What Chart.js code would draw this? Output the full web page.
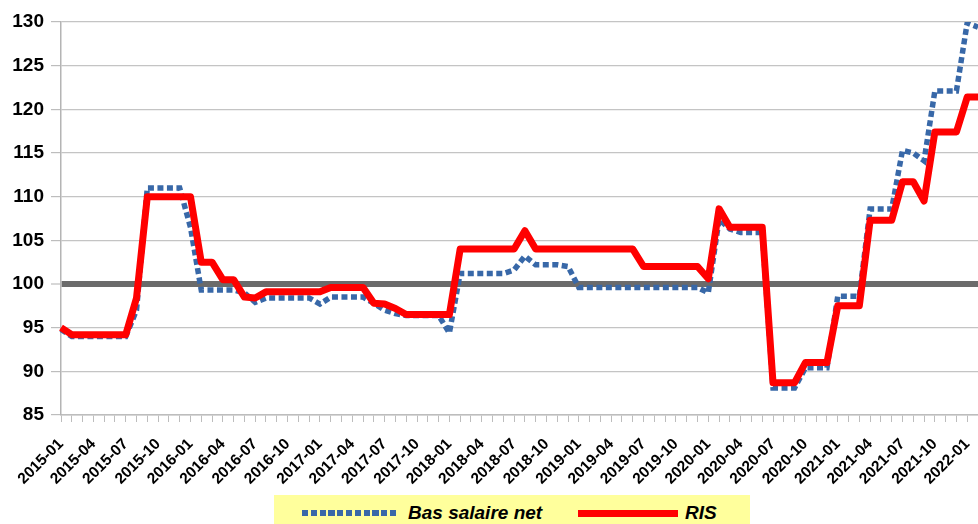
<!DOCTYPE html>
<html>

<head>
    <title>Bas salaire net et RIS</title>
    <style>
        body {
            margin: 0;
            background: #fff;
            overflow: hidden;
        }

        #canvas-container {
            position: relative;
            width: 978px;
            height: 524px;
        }

        #legend {
            position: absolute;
            left: 274px;
            top: 495px;
            width: 476px;
            height: 29px;
            background: #ffff9c;
            font-family: 'Liberation Sans', Arial, sans-serif;
            font-size: 19px;
            font-weight: bold;
            font-style: italic;
        }

        #legend .sample, #legend .txt {
            position: absolute;
        }

        #legend .txt {
            top: 7px;
            line-height: 22px;
        }
    </style>
    <script src="https://cdn.jsdelivr.net/npm/chart.js"></script>
</head>

<body>
    <div id="canvas-container">
        <canvas id="myChart"></canvas>
        <div id="legend">
            <div class="sample" style="left:28px; top:15px; width:97px; height:5.5px; background: repeating-linear-gradient(to right, #3868a8 0 6.2px, transparent 6.2px 8.8px);"></div>
            <div class="txt" style="left:134px;">Bas salaire net</div>
            <div class="sample" style="left:304px; top:14.5px; width:100px; height:7px; background:#ff0000;"></div>
            <div class="txt" style="left:411px;">RIS</div>
        </div>
    </div>

    <script>
        // Months (one point per month)
        const months = [
            '2015-01', '2015-02', '2015-03', '2015-04', '2015-05', '2015-06', '2015-07', '2015-08', '2015-09', '2015-10', '2015-11', '2015-12',
            '2016-01', '2016-02', '2016-03', '2016-04', '2016-05', '2016-06', '2016-07', '2016-08', '2016-09', '2016-10', '2016-11', '2016-12',
            '2017-01', '2017-02', '2017-03', '2017-04', '2017-05', '2017-06', '2017-07', '2017-08', '2017-09', '2017-10', '2017-11', '2017-12',
            '2018-01', '2018-02', '2018-03', '2018-04', '2018-05', '2018-06', '2018-07', '2018-08', '2018-09', '2018-10', '2018-11', '2018-12',
            '2019-01', '2019-02', '2019-03', '2019-04', '2019-05', '2019-06', '2019-07', '2019-08', '2019-09', '2019-10', '2019-11', '2019-12',
            '2020-01', '2020-02', '2020-03', '2020-04', '2020-05', '2020-06', '2020-07', '2020-08', '2020-09', '2020-10', '2020-11', '2020-12',
            '2021-01', '2021-02', '2021-03', '2021-04', '2021-05', '2021-06', '2021-07', '2021-08', '2021-09', '2021-10', '2021-11', '2021-12',
            '2022-01', '2022-02'
        ];

        // Bas salaire net (blue dotted)
        const basSalaireNet = [
            94.8, 94.0, 94.0, 94.0, 94.0, 94.0, 94.0, 97.0, 111.0, 111.0, 111.0, 111.0,
            106.5, 99.3, 99.3, 99.3, 99.3, 99.0, 97.9, 98.4, 98.4, 98.4, 98.4, 98.4,
            97.7, 98.5, 98.5, 98.5, 98.5, 97.8, 97.0, 96.6, 96.4, 96.4, 96.4, 96.4,
            94.4, 101.2, 101.2, 101.2, 101.2, 101.2, 101.6, 103.2, 102.2, 102.2, 102.2, 102.0,
            99.6, 99.6, 99.6, 99.6, 99.6, 99.6, 99.6, 99.6, 99.6, 99.6, 99.6, 99.6,
            99.0, 107.4, 106.3, 105.9, 105.9, 105.9, 88.1, 88.1, 88.1, 90.4, 90.4, 90.4,
            98.6, 98.6, 98.6, 108.6, 108.6, 108.6, 115.3, 115.0, 114.1, 122.1, 122.1, 122.1,
            129.9, 129.4
        ];

        // RIS (red)
        const ris = [
            95.0, 94.2, 94.2, 94.2, 94.2, 94.2, 94.2, 98.4, 110.0, 110.0, 110.0, 110.0,
            110.0, 102.5, 102.5, 100.5, 100.5, 98.5, 98.4, 99.1, 99.1, 99.1, 99.1, 99.1,
            99.1, 99.6, 99.6, 99.6, 99.6, 97.8, 97.7, 97.2, 96.5, 96.5, 96.5, 96.5,
            96.5, 104.0, 104.0, 104.0, 104.0, 104.0, 104.0, 106.1, 104.0, 104.0, 104.0, 104.0,
            104.0, 104.0, 104.0, 104.0, 104.0, 104.0, 102.0, 102.0, 102.0, 102.0, 102.0, 102.0,
            100.6, 108.6, 106.5, 106.5, 106.5, 106.5, 88.7, 88.7, 88.7, 91.0, 91.0, 91.0,
            97.5, 97.5, 97.5, 107.3, 107.3, 107.3, 111.7, 111.7, 109.5, 117.4, 117.4, 117.4,
            121.4, 121.4
        ];

        const yMin = 85;
        const yMax = 130;
        const yStep = 5;
        const baseLevel = 100;

        Chart.defaults.font.family = "'Liberation Sans', Arial, sans-serif";

        const ctx = document.getElementById('myChart').getContext('2d');

        const myChart = new Chart(ctx, {
            type: 'line',
            data: {
                labels: months,
                datasets: [{
                    label: 'RIS',
                    data: ris,
                    borderColor: '#ff0000',
                    borderWidth: 7,
                    borderJoinStyle: 'round',
                    pointRadius: 0,
                    tension: 0,
                    order: 0
                }, {
                    label: 'Bas salaire net',
                    data: basSalaireNet,
                    borderColor: '#3868a8',
                    borderWidth: 5.5,
                    borderDash: [6, 3.5],
                    pointRadius: 0,
                    tension: 0,
                    order: 1
                }]
            },
            options: {
                responsive: true,
                maintainAspectRatio: false,
                animation: false,
                layout: {
                    padding: { top: 22, left: 0, right: 0, bottom: 0 }
                },
                plugins: {
                    legend: { display: false },
                    tooltip: { enabled: false }
                },
                scales: {
                    x: {
                        offset: false,
                        grid: {
                            drawOnChartArea: false,
                            drawTicks: true,
                            tickLength: 7,
                            color: '#bdbdbd'
                        },
                        border: { display: true, color: '#bdbdbd', width: 1.5 },
                        ticks: {
                            autoSkip: false,
                            maxRotation: 45,
                            minRotation: 45,
                            padding: 13,
                            color: '#000',
                            font: { size: 15.5, weight: 'bold' },
                            callback: function (value, index) {
                                return index % 3 === 0 ? this.getLabelForValue(value) : '';
                            }
                        },
                        afterFit: function (scale) {
                            scale.height = 109;
                            scale.paddingLeft = 0;
                            scale.paddingRight = 0;
                        }
                    },
                    y: {
                        min: yMin,
                        max: yMax,
                        ticks: {
                            stepSize: yStep,
                            padding: 7,
                            color: '#000',
                            font: { size: 19, weight: 'bold' }
                        },
                        grid: {
                            color: (c) => c.tick && c.tick.value === baseLevel ? '#6b6b6b' : '#c4c4c4',
                            lineWidth: (c) => c.tick && c.tick.value === baseLevel ? 6 : 1.2,
                            tickLength: 10,
                            tickColor: '#bdbdbd',
                            tickWidth: 1.2
                        },
                        border: { display: true, color: '#b4b4b4', width: 1.5 },
                        afterFit: function (scale) {
                            scale.width = 61;
                        }
                    }
                }
            }
        });
    </script>
</body>

</html>
